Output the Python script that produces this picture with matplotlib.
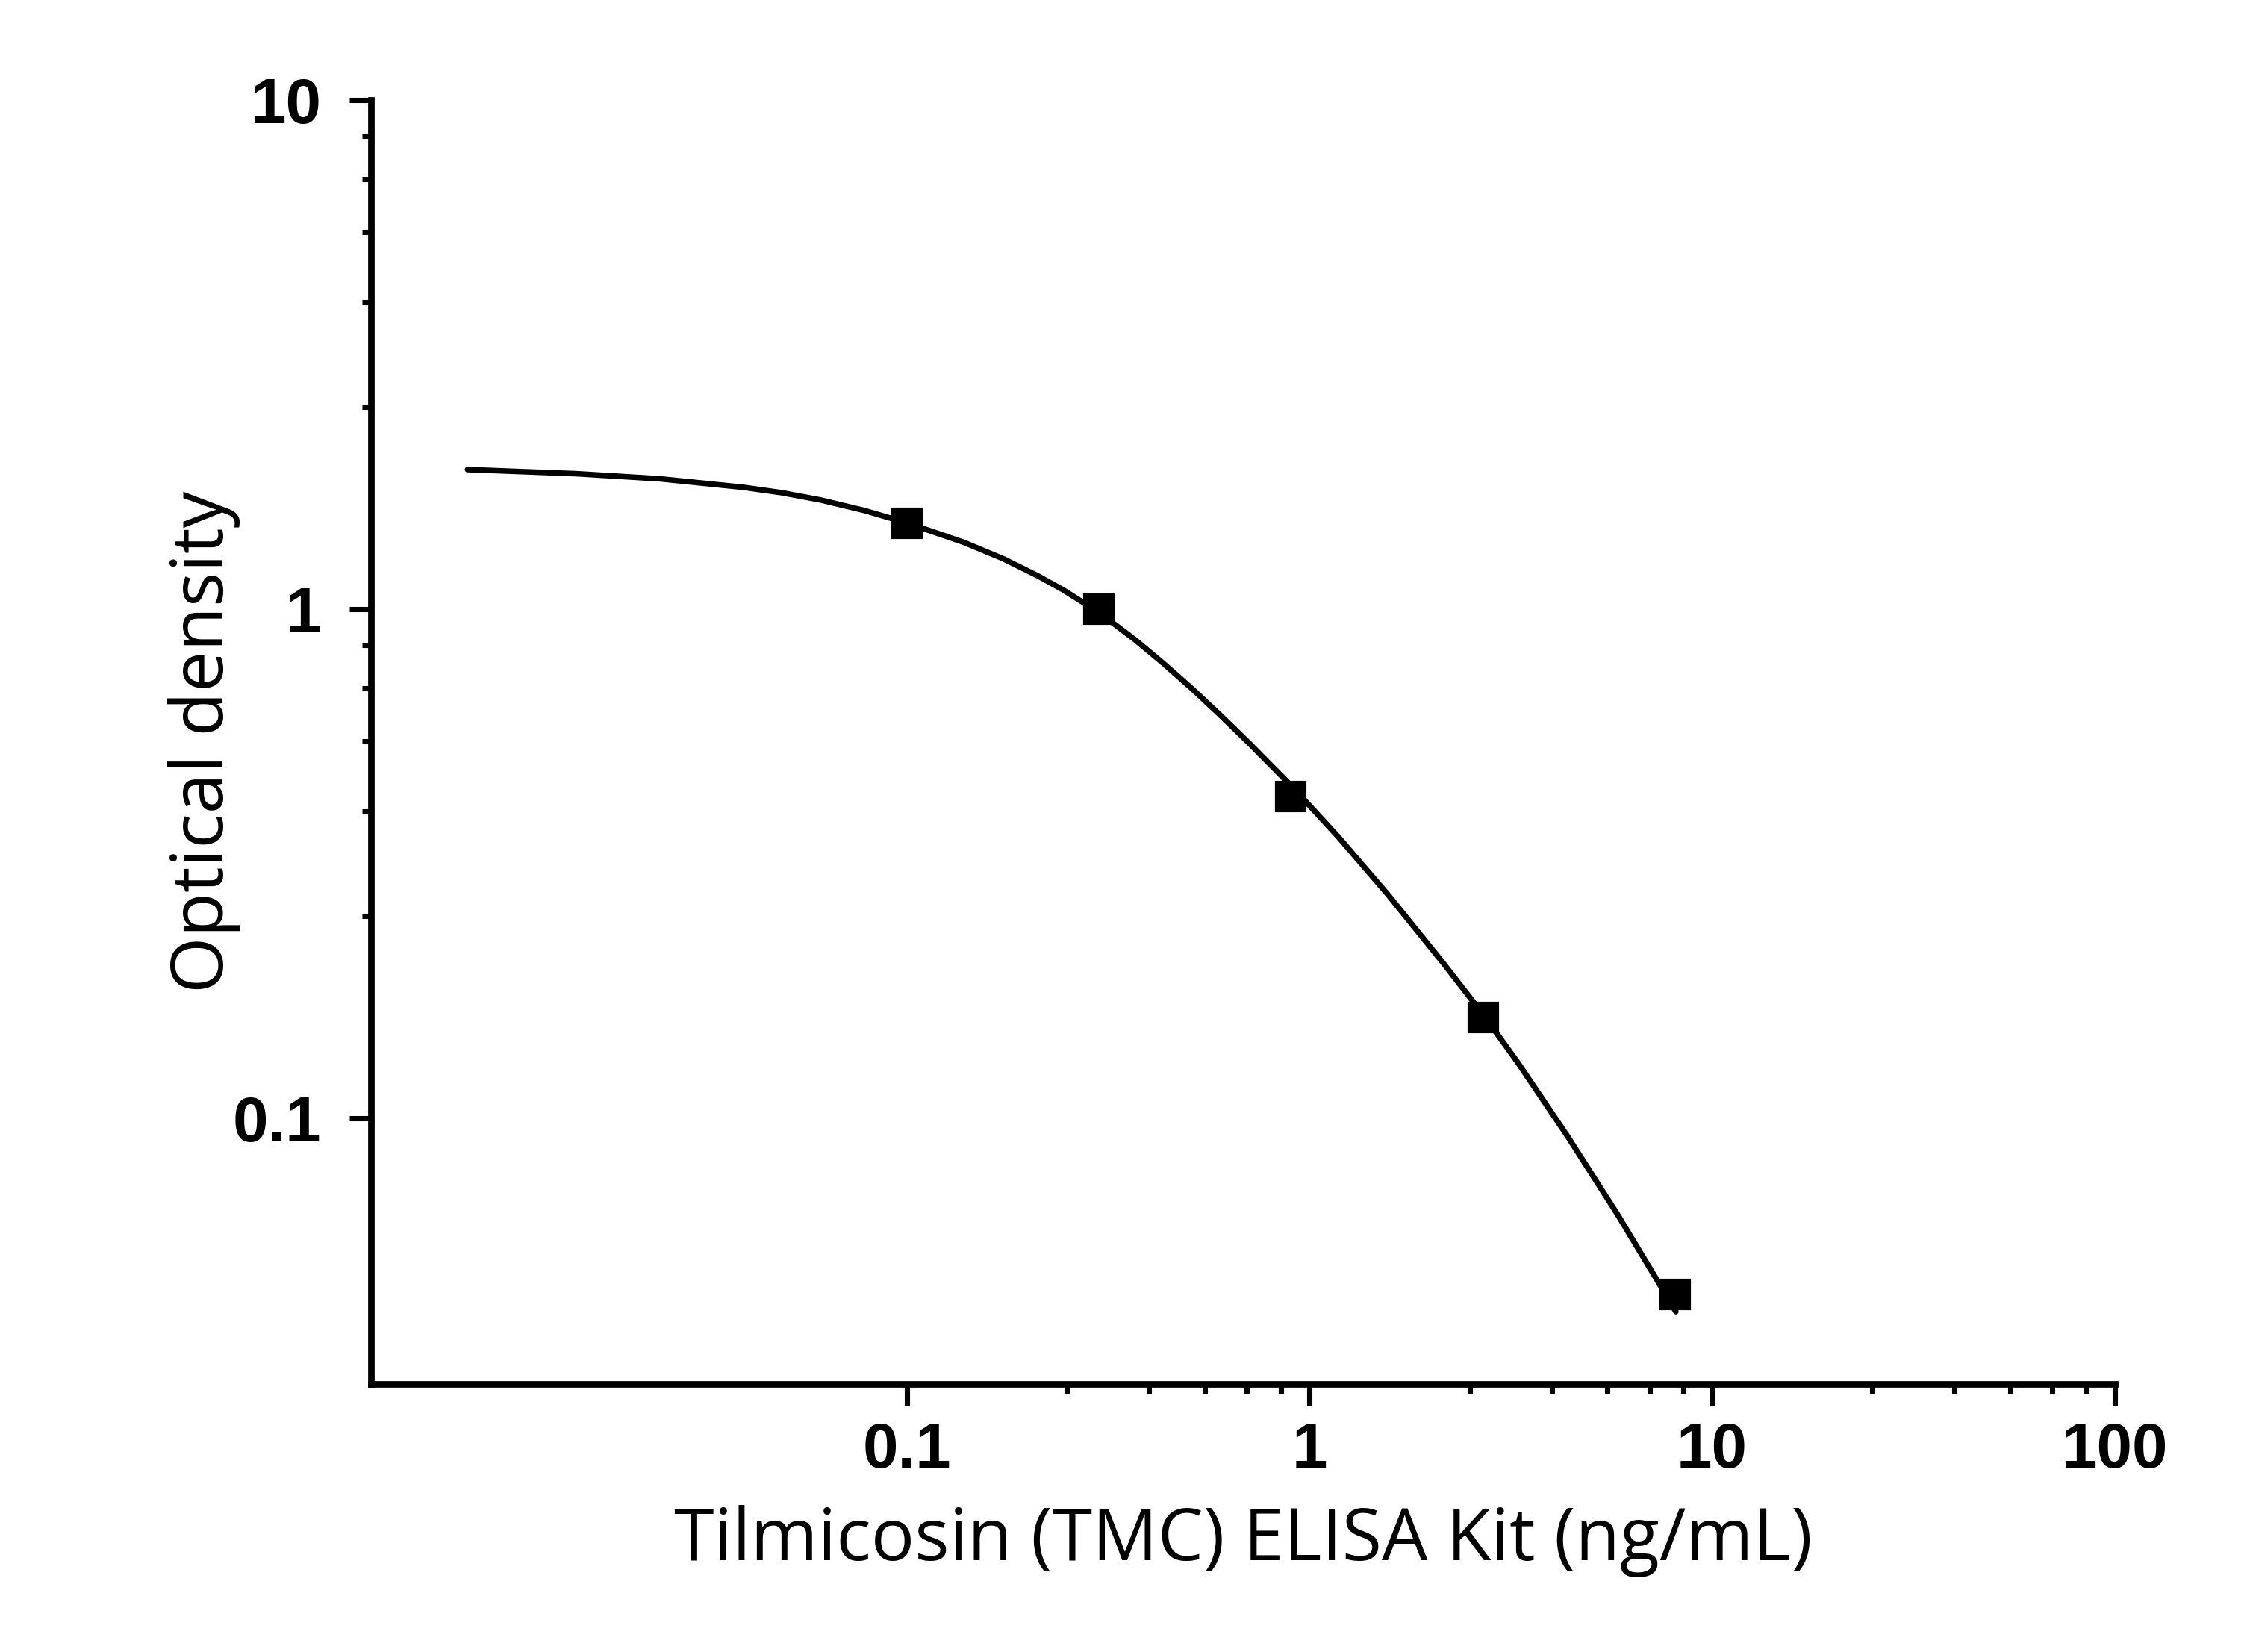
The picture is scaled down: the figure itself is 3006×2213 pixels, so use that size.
import numpy as np
import matplotlib
matplotlib.use("Agg")
import matplotlib.pyplot as plt
from matplotlib.ticker import FixedLocator, NullFormatter

# standard points (ng/mL) and measured OD
conc = [0.1, 0.3, 0.9, 2.7, 8.1]
od = [1.474, 1.0, 0.429, 0.158, 0.0451]

# fitted curve (hand smoothed)
fit_x = [0.00812, 0.01515, 0.02438, 0.0393, 0.0490, 0.0612, 0.0786, 0.1009,
         0.1386, 0.1741, 0.2119, 0.2455, 0.302, 0.3693, 0.4347, 0.5121,
         0.603, 0.7097, 0.905, 1.181, 1.570, 2.148, 2.713, 3.291, 4.375,
         5.817, 7.731, 8.127]
fit_y = [1.880, 1.845, 1.803, 1.735, 1.693, 1.638, 1.562, 1.474,
         1.353, 1.255, 1.162, 1.0895, 0.9818, 0.8703, 0.7816, 0.6970,
         0.6175, 0.5447, 0.4484, 0.3567, 0.2745, 0.2019, 0.1591, 0.1287, 0.0922,
         0.0648, 0.0446, 0.0417]

xticks = [0.1, 1, 10, 100]
xticklabels = ["0.1", "1", "10", "100"]
yticks = [0.1, 1, 10]
yticklabels = ["0.1", "1", "10"]

xlabel = "Tilmicosin (TMC) ELISA Kit (ng/mL)"
ylabel = "Optical density"

fig = plt.figure(figsize=(3006 / 300, 2213 / 300), dpi=300)
ax = fig.add_axes([497 / 3006, 1 - 1854 / 2213, (2833 - 497) / 3006, (1854 - 134) / 2213])

ax.plot(fit_x, fit_y, color="black", lw=1.8, solid_capstyle="round",
        solid_joinstyle="round", zorder=2)
ax.plot(conc, od, ls="none", marker="s", ms=9, color="black", zorder=3)

ax.set_xscale("log")
ax.set_yscale("log")
ax.set_xlim(10 ** -2.33, 100)
ax.set_ylim(10 ** -1.522, 10)

# origin style minor ticks (linear steps inside each decade)
xminor = [d * (1 + 1.5 * k) for d in [0.1, 1, 10] for k in range(1, 6)]
yminor = [d * (1 + 1.5 * k) for d in [0.1, 1] for k in range(1, 6)]

ax.xaxis.set_major_locator(FixedLocator(xticks))
ax.xaxis.set_minor_locator(FixedLocator(xminor))
ax.yaxis.set_major_locator(FixedLocator(yticks))
ax.yaxis.set_minor_locator(FixedLocator(yminor))
ax.xaxis.set_minor_formatter(NullFormatter())
ax.yaxis.set_minor_formatter(NullFormatter())
ax.set_xticklabels(xticklabels)
ax.set_yticklabels(yticklabels)

for lab in ax.get_xticklabels() + ax.get_yticklabels():
    lab.set_family("Liberation Sans")
    lab.set_fontweight("bold")
    lab.set_fontsize(20.5)

ax.tick_params(which="major", direction="out", length=7, width=1.7, color="black")
ax.tick_params(which="minor", direction="out", length=3, width=1.7, color="black")
ax.tick_params(axis="x", which="major", pad=5)
ax.tick_params(axis="y", which="major", pad=9)

for s in ["top", "right"]:
    ax.spines[s].set_visible(False)
for s in ["left", "bottom"]:
    ax.spines[s].set_linewidth(2.1)

ax.set_xlabel(xlabel, family=["Open Sans", "DejaVu Sans"], fontsize=23.35)
ax.set_ylabel(ylabel, family=["Open Sans", "DejaVu Sans"], fontsize=23.35)
ax.xaxis.set_label_coords(0.5, -236 / 1720)
ax.xaxis.label.set_verticalalignment("baseline")
ax.yaxis.set_label_coords(-198 / 2336, 0.5)
ax.yaxis.label.set_verticalalignment("baseline")

fig.savefig("out.png", dpi=300, facecolor="white")
